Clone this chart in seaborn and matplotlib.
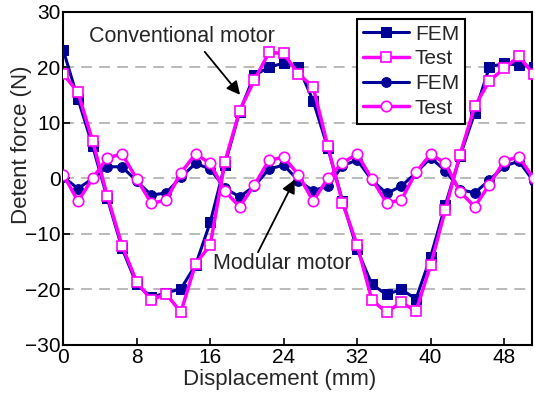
import numpy as np
import pandas as pd
import matplotlib
matplotlib.use("Agg")
import matplotlib.pyplot as plt
import seaborn as sns

# Displacement (mm)
displacement = [round(1.6 * i, 1) for i in range(33)]

conv_fem = [23.1, 14.3, 5.8, -3.6, -12.6, -19.1, -21.4, -20.6, -19.9, -15.6, -7.9,
            2.5, 12.0, 18.6, 20.0, 20.8, 20.1, 14.0, 5.5, -4.0, -12.8, -19.1, -20.9,
            -20.0, -21.7, -14.1, -4.8, 4.0, 11.8, 20.1, 20.7, 20.4, 20.1]
conv_test = [18.8, 15.5, 6.7, -3.2, -12.1, -18.7, -21.9, -20.8, -24.1, -15.4, -12.0,
             3.0, 12.2, 17.7, 22.7, 22.5, 18.8, 16.5, 5.8, -4.4, -12.0, -21.9, -24.1,
             -22.3, -23.9, -15.6, -5.6, 4.3, 13.0, 17.6, 19.8, 22.0, 18.8]
mod_fem = [0.3, -1.85, 0.0, 2.1, 2.1, -0.5, -3.0, -2.6, 0.2, 2.7, 1.7,
           -1.8, -3.3, -1.4, 1.7, 2.4, -0.4, -2.2, -1.4, 2.3, 3.3, -0.3, -2.7,
           -1.4, 1.0, 3.7, 1.4, -2.0, -2.6, -0.3, 2.2, 3.1, -0.5]
mod_test = [0.7, -4.1, 0.0, 3.7, 4.4, -0.1, -4.5, -3.9, 1.0, 4.4, 2.7,
            -2.3, -5.1, -1.2, 3.3, 3.8, 0.7, -4.1, 0.0, 2.8, 4.4, -0.1, -4.4,
            -3.9, 1.1, 4.4, 2.7, -2.4, -5.1, -1.1, 3.1, 3.9, 0.0]

x_ticks = [0, 8, 16, 24, 32, 40, 48]
y_ticks = [-30, -20, -10, 0, 10, 20, 30]

sns.set_style("white")
plt.rcParams['font.family'] = ['Liberation Sans', 'DejaVu Sans']

BLUE = '#000096'
MAG = '#FF00FF'
FS = 15

fig = plt.figure(figsize=(5.35, 3.95), dpi=100)
ax = fig.add_axes([0.1183, 0.1266, 0.8755, 0.8434])

for yv in [-20, -10, 0, 10, 20]:
    ax.axhline(yv, color='#b4b4b4', lw=1.3, dashes=(6, 4), zorder=0)

df = pd.DataFrame({'x': displacement, 'cf': conv_fem, 'ct': conv_test,
                   'mf': mod_fem, 'mt': mod_test})

sns.lineplot(data=df, x='x', y='cf', ax=ax, color=BLUE, lw=2.2, marker='s',
             markersize=6.5, markerfacecolor=BLUE, markeredgecolor=BLUE,
             label='FEM', zorder=3)
sns.lineplot(data=df, x='x', y='ct', ax=ax, color=MAG, lw=2.5, marker='s',
             markersize=7, markerfacecolor='white', markeredgecolor=MAG,
             markeredgewidth=1.2, label='Test', zorder=4)
sns.lineplot(data=df, x='x', y='mf', ax=ax, color=BLUE, lw=2.2, marker='o',
             markersize=7, markerfacecolor=BLUE, markeredgecolor=BLUE,
             label='FEM', zorder=3)
sns.lineplot(data=df, x='x', y='mt', ax=ax, color=MAG, lw=2.5, marker='o',
             markersize=7.5, markerfacecolor='white', markeredgecolor=MAG,
             markeredgewidth=1.2, label='Test', zorder=4)

ax.set_xlim(0, 51)
ax.set_ylim(-30, 30)
ax.set_xticks(x_ticks)
ax.set_yticks(y_ticks)
ax.tick_params(direction='in', length=5, width=1.2, labelsize=FS, pad=2,
               bottom=True, left=True, top=False, right=False, colors='black')
for s in ax.spines.values():
    s.set_color('black')
    s.set_linewidth(1.5)

ax.set_xlabel('Displacement (mm)', fontsize=16)
ax.set_ylabel('Detent force (N)', fontsize=16)
ax.xaxis.set_label_coords(0.4615, -0.072)
ax.yaxis.set_label_coords(-0.066, 0.60)

ax.text(12.9, 25.5, 'Conventional motor', fontsize=15.5, ha='center', va='center')
ax.annotate('', xy=(19.25, 15.05), xytext=(15.4, 22.8),
            arrowprops=dict(arrowstyle='-|>', color='black', lw=1.3,
                            mutation_scale=20, shrinkA=0, shrinkB=0))
ax.text(23.8, -15.4, 'Modular motor', fontsize=15.5, ha='center', va='center')
ax.annotate('', xy=(25.2, -0.2), xytext=(21.2, -13.3),
            arrowprops=dict(arrowstyle='-|>', color='black', lw=1.3,
                            mutation_scale=20, shrinkA=0, shrinkB=0))

leg = ax.legend(loc='upper left', bbox_to_anchor=(0.626, 0.980),
                borderaxespad=0, fontsize=FS, frameon=True, fancybox=False,
                edgecolor='black', framealpha=1, handlelength=2.2,
                labelspacing=0.27, borderpad=0.3, handletextpad=0.3)
leg.get_frame().set_linewidth(1.5)

fig.savefig('out.png', dpi=100)
